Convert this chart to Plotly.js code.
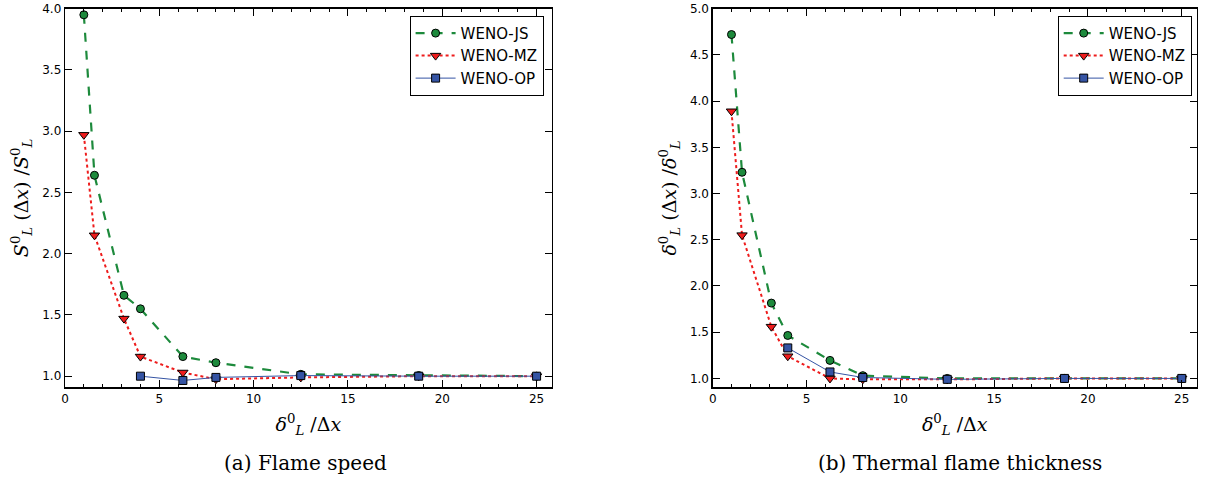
<!DOCTYPE html>
<html>
<head>
<meta charset="utf-8">
<script src="https://cdn.plot.ly/plotly-3.0.1.min.js"></script>
<style>html,body{margin:0;padding:0;background:#fff;}#chart{width:1208px;height:481px;}</style>
</head>
<body>
<div id="chart"></div>
<script>
// grid resolution delta_L^0 / dx
const xRes = [1, 1.5625, 3.125, 4, 6.25, 8, 12.5, 18.75, 25];
const xResOP = [4, 6.25, 8, 12.5, 18.75, 25];
const seriesNames = ["WENO-JS", "WENO-MZ", "WENO-OP"];
// (a) flame speed ratio
const speedJS = [3.95, 2.64, 1.66, 1.55, 1.16, 1.11, 1.015, 1.005, 1.0];
const speedMZ = [2.97, 2.15, 1.47, 1.16, 1.03, 0.975, 0.99, 1.0, 1.0];
const speedOP = [1.0, 0.965, 0.99, 1.005, 1.0, 1.0];
// (b) thermal flame thickness ratio
const thickJS = [4.72, 3.23, 1.815, 1.465, 1.195, 1.03, 1.0, 1.0, 1.0];
const thickMZ = [3.89, 2.55, 1.56, 1.24, 1.0, 0.99, 0.99, 1.0, 1.0];
const thickOP = [1.33, 1.07, 1.01, 0.99, 1.0, 1.0];
const captions = ["(a) Flame speed", "(b) Thermal flame thickness"];

const green = '#1d8a3c', red = '#ee1c1c', blue = '#3554a4';
function styles(i) {
  return [
    {line:{color:green, dash:'dash', width:2.2}, marker:{symbol:'circle', size:8, color:green, line:{color:'#000', width:1}}},
    {line:{color:red, dash:'dot', width:2}, marker:{symbol:'triangle-down', size:9, color:red, line:{color:'#000', width:1}}},
    {line:{color:blue, width:1}, marker:{symbol:'square', size:8, color:blue, line:{color:'#000', width:1}}}
  ][i];
}
function mk(x, y, i, xa, ya, leg) {
  const s = styles(i);
  return {x:x, y:y, name:seriesNames[i], mode:'lines+markers', type:'scatter',
          xaxis:xa, yaxis:ya, legend:leg, line:s.line, marker:s.marker};
}
const traces = [
  mk(xRes, speedJS, 0, 'x', 'y', 'legend'),
  mk(xRes, speedMZ, 1, 'x', 'y', 'legend'),
  mk(xResOP, speedOP, 2, 'x', 'y', 'legend'),
  mk(xRes, thickJS, 0, 'x2', 'y2', 'legend2'),
  mk(xRes, thickMZ, 1, 'x2', 'y2', 'legend2'),
  mk(xResOP, thickOP, 2, 'x2', 'y2', 'legend2')
];

const tickFont = {family:'DejaVu Sans', size:12, color:'#000'};
const titleFont = {family:'DejaVu Serif', size:19, color:'#000'};
function xax(domain, anchor) {
  return {domain:domain, anchor:anchor, range:[0, 25.8], dtick:5, tick0:0,
    ticks:'inside', ticklen:7, tickwidth:1, tickcolor:'#000', mirror:'ticks',
    showline:true, linecolor:'#000', linewidth:1.3, showgrid:false, zeroline:false,
    tickfont:tickFont,
    minor:{dtick:1, ticks:'inside', ticklen:3, tickcolor:'#000', showgrid:false},
    title:{text:'<i>δ</i><sup>0</sup><sub><i>L</i></sub> /Δ<i>x</i>', font:titleFont, standoff:12}};
}
function yax(domain, anchor, range, title) {
  return {domain:domain, anchor:anchor, range:range, dtick:0.5, tick0:0,
    tickformat:'.1f',
    ticks:'inside', ticklen:7, tickwidth:1, tickcolor:'#000', mirror:'ticks',
    showline:true, linecolor:'#000', linewidth:1.3, showgrid:false, zeroline:false,
    tickfont:tickFont,
    title:{text:title, font:titleFont, standoff:8}};
}
const legBase = {bordercolor:'#000', borderwidth:1, bgcolor:'#fff',
  font:{family:'DejaVu Sans', size:15, color:'#000'}, xanchor:'right', yanchor:'top',
  tracegroupgap:0, itemwidth:40};

const layout = {
  width:1208, height:481, margin:{l:0, r:0, t:0, b:0},
  paper_bgcolor:'#fff', plot_bgcolor:'#fff', showlegend:true,
  xaxis: xax([0.0538, 0.4567], 'y'),
  yaxis: yax([0.195, 0.982], 'x', [0.91, 4.0],
    '<i>S</i><sup>0</sup><sub><i>L</i></sub> (Δ<i>x</i>) /<i>S</i><sup>0</sup><sub><i>L</i></sub>'),
  xaxis2: xax([0.590, 0.9907], 'y2'),
  yaxis2: yax([0.195, 0.982], 'x2', [0.905, 5.0],
    '<i>δ</i><sup>0</sup><sub><i>L</i></sub> (Δ<i>x</i>) /<i>δ</i><sup>0</sup><sub><i>L</i></sub>'),
  legend: Object.assign({x:0.450, y:0.967}, legBase),
  legend2: Object.assign({x:0.9865, y:0.967}, legBase),
  annotations: [
    {text:captions[0], xref:'paper', yref:'paper', x:305/1208, y:1-463/481, xanchor:'center', yanchor:'middle',
     showarrow:false, font:{family:'DejaVu Serif', size:20, color:'#000'}},
    {text:captions[1], xref:'paper', yref:'paper', x:960/1208, y:1-463/481, xanchor:'center', yanchor:'middle',
     showarrow:false, font:{family:'DejaVu Serif', size:20, color:'#000'}}
  ]
};
Plotly.newPlot('chart', traces, layout, {displayModeBar:false, staticPlot:true});
</script>
</body>
</html>
